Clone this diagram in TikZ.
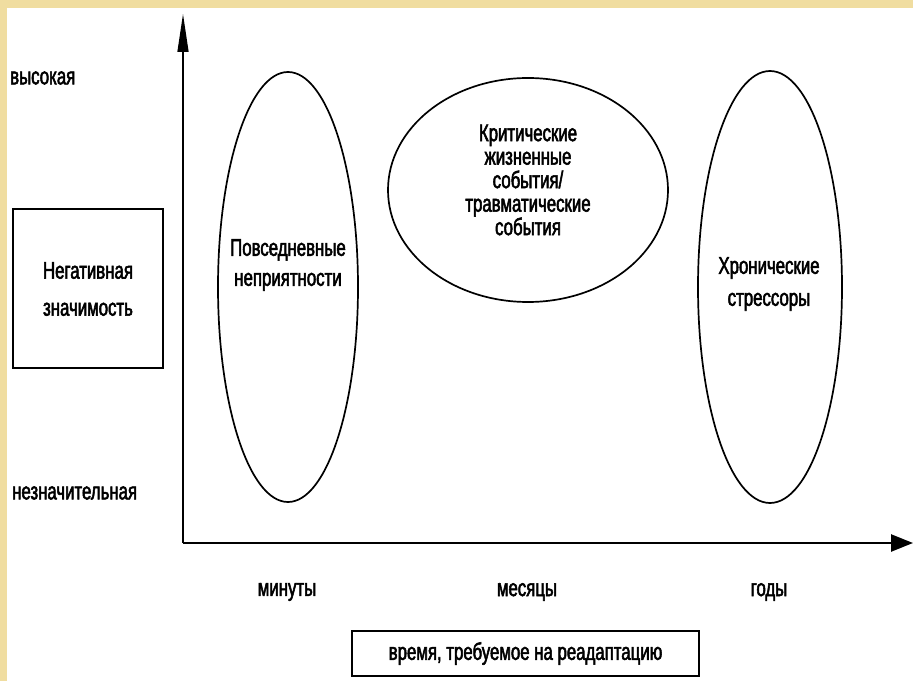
\documentclass[tikz,border=0pt]{standalone}
\usepackage{fontspec}
\setmainfont{Liberation Sans}[FakeStretch=0.7,FakeBold=2.2]
\usetikzlibrary{shapes.geometric,arrows.meta}
\definecolor{paper}{RGB}{240,221,160}
\newcommand{\sz}{\fontsize{24}{23.5}\selectfont}

\begin{document}
\begin{tikzpicture}[x=1pt,y=1pt]
    \tikzstyle{oval}=[draw, ellipse, line width=1.7pt, inner sep=0pt]
    \tikzstyle{lbl}=[font=\sz, align=center, inner sep=0pt]
    \tikzstyle{frame}=[draw, line width=2pt, inner sep=0pt]
    \fill[paper] (0,0) rectangle (913,681);
    \fill[white] (7,0) rectangle (913,673);
    \useasboundingbox (0,0) rectangle (913,681);

    \coordinate (o) at (183,138);
    \coordinate (ytip) at (183,667);
    \coordinate (xtip) at (913,138);
    \draw[line width=1.4pt, -{Triangle[length=38pt,width=11pt]}] (o) -- (ytip);
    \draw[line width=2.5pt, -{Triangle[length=22pt,width=17pt]}] (o) -- (xtip);

    \node[lbl, anchor=west] (high) at (10,603) {высокая};
    \node[lbl, anchor=west] (low) at (12,188) {незначительная};
    \node[frame, lbl, minimum width=150pt, minimum height=159pt] (neg) at (88,392)
        {Негативная\\[13.5pt]значимость};

    \node[oval, minimum width=140pt, minimum height=430pt] (daily) at (288,394) {};
    \node[lbl] (dailytxt) at (288,416) {Повседневные\\[6.5pt]неприятности};
    \node[oval, minimum width=280pt, minimum height=224pt] (crit) at (528,491) {};
    \node[lbl] (crittxt) at (528,501)
        {Критические\\жизненные\\события/\\травматические\\события};
    \node[oval, minimum width=144pt, minimum height=432pt] (chron) at (770,394) {};
    \node[lbl] (chrontxt) at (769,397) {Хронические\\[8.5pt]стрессоры};

    \node[lbl] (min) at (287,89) {минуты};
    \node[lbl] (mon) at (527,89) {месяцы};
    \node[lbl] (yrs) at (769,89) {годы};
    \node[frame, lbl, minimum width=347pt, minimum height=45pt] (time) at (525.5,27.5)
        {время, требуемое на реадаптацию};
\end{tikzpicture}
\end{document}
